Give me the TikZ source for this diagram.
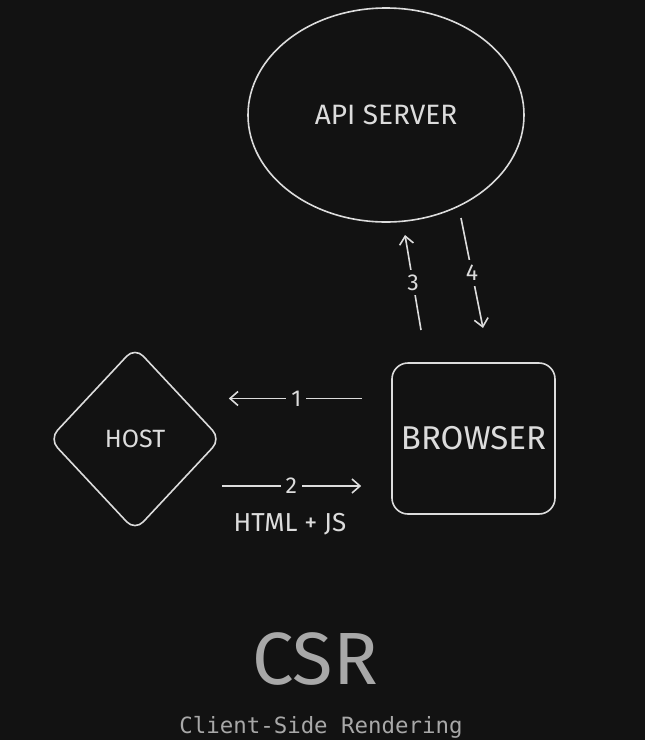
\documentclass[tikz,border=0pt]{standalone}
\usepackage{fontspec}
\setmainfont{Fira Sans}
\newfontfamily\monofont{DejaVu Sans Mono}
\usetikzlibrary{arrows.meta,positioning,shapes.geometric}
\definecolor{bgcol}{HTML}{121212}
\definecolor{inkcol}{HTML}{DCDCDC}
\definecolor{titlecol}{HTML}{A8A8A8}

\begin{document}
\begin{tikzpicture}[x=0.5pt,y=-0.5pt,>={Straight Barb[length=4pt,width=7pt]},
  every node/.style={text=inkcol},
  shapeline/.style={draw=inkcol,line width=0.8pt},
  flow/.style={->,draw=inkcol,line width=0.8pt},
  steplabel/.style={fill=bgcol,inner sep=2.5pt,font=\fontsize{11.5}{13}\selectfont}]
  % Background
  \fill[bgcol] (0,0) rectangle (645,740);
  \useasboundingbox (0,0) rectangle (645,740);

  % Components
  \node[shapeline,ellipse,minimum width=138pt,minimum height=107pt,
    font=\fontsize{14}{16}\selectfont] (api) at (386,115) {API SERVER};
  \node[shapeline,diamond,minimum width=86pt,minimum height=92pt,inner sep=0pt,
    rounded corners=6pt,font=\fontsize{12.5}{14}\selectfont] (host) at (135,439) {HOST};
  \node[shapeline,rectangle,minimum width=81.5pt,minimum height=75.5pt,
    rounded corners=8pt,font=\fontsize{16.5}{18}\selectfont] (browser) at (473.5,438.5) {BROWSER};

  % Requests between browser and host
  \draw[flow,shorten <=14.5pt,shorten >=3.5pt] ([yshift=20pt]browser.west)
    -- ([yshift=20pt]browser.west -| host.east) node[steplabel,pos=0.56] {1};
  \draw[flow,shorten <=0pt,shorten >=15pt] ([yshift=-23.5pt]host.east)
    -- ([yshift=-23.5pt]host.east -| browser.west) node[steplabel,pos=0.41] {2};
  \node[font=\fontsize{13}{15}\selectfont] (payload) at (290,524) {HTML + JS};

  % Calls between browser and API server
  \coordinate (call3s) at (421,330);
  \coordinate (call3e) at (405,235);
  \coordinate (call4s) at (461,218);
  \coordinate (call4e) at (483,328);
  \draw[flow] (call3s) -- (call3e) node[steplabel,midway] {3};
  \draw[flow] (call4s) -- (call4e) node[steplabel,midway] {4};

  % Caption
  \node[text=titlecol,font=\fontsize{37}{40}\selectfont] (title) at (315,659) {CSR};
  \node[text=titlecol,anchor=base,font=\monofont\fontsize{11.2}{12}\selectfont]
    (subtitle) at (321,733) {Client-Side Rendering};
\end{tikzpicture}
\end{document}
